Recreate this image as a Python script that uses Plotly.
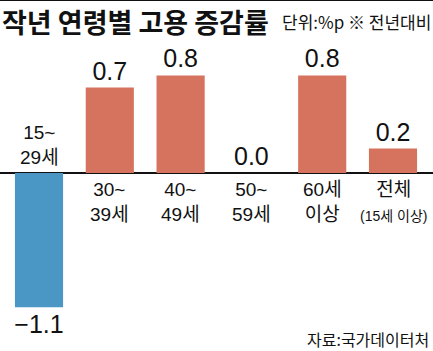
import plotly.graph_objects as go

categories = ["15~29세", "30~39세", "40~49세", "50~59세", "60세 이상", "전체"]
cat_labels = ["15~<br>29세", "30~<br>39세", "40~<br>49세", "50~<br>59세", "60세<br>이상",
              "전체<br><span style='font-size:14px'>(15세 이상)</span>"]
values = [-1.1, 0.7, 0.8, 0.0, 0.8, 0.2]

title_text = "작년 연령별 고용 증감률"
unit_text = "단위:%p ※ 전년대비"
source_text = "자료:국가데이터처"

RED = "#D6735F"
BLUE = "#4A96C4"
NUM_FONT = "Liberation Sans, Arial, Noto Sans CJK KR, sans-serif"
KR_FONT = "Noto Sans CJK KR, sans-serif"
LBL_FONT = "Liberation Sans, Noto Sans CJK KR, sans-serif"

colors = [BLUE if v < 0 else RED for v in values]
texts = [f"{v:.1f}".replace("-", "\u2212") for v in values]

fig = go.Figure(go.Bar(
    x=categories, y=values,
    marker=dict(color=colors, line=dict(width=0)),
    text=texts, textposition="outside", cliponaxis=False, constraintext="none",
    textfont=dict(family=NUM_FONT, size=25, color="#111111"),
    hoverinfo="skip",
))

annotations = []
for c, lab, v in zip(categories, cat_labels, values):
    if v < 0:
        annotations.append(dict(x=c, y=0, xref="x", yref="y", text=lab, showarrow=False,
                                yanchor="bottom", yshift=3,
                                font=dict(family=LBL_FONT, size=19, color="#111111")))
    else:
        annotations.append(dict(x=c, y=0, xref="x", yref="y", text=lab, showarrow=False,
                                yanchor="top", yshift=-4,
                                font=dict(family=LBL_FONT, size=19, color="#111111")))

annotations.append(dict(x=0.0, y=1 - 21.5 / 351, xref="paper", yref="paper", xanchor="left",
                        yanchor="middle", text=f"<b>{title_text}</b>", showarrow=False,
                        font=dict(family=KR_FONT, size=27, color="#111111")))
annotations.append(dict(x=1.0, y=1 - 21 / 351, xref="paper", yref="paper", xanchor="right",
                        yanchor="middle", text=unit_text, showarrow=False,
                        font=dict(family=KR_FONT, size=17, color="#111111")))
annotations.append(dict(x=0.995, y=1 - 339 / 351, xref="paper", yref="paper", xanchor="right",
                        yanchor="middle", text=source_text, showarrow=False,
                        font=dict(family=KR_FONT, size=16, color="#111111")))

fig.update_layout(
    width=433, height=351,
    margin=dict(l=0, r=0, t=0, b=0),
    paper_bgcolor="white", plot_bgcolor="white",
    showlegend=False,
    bargap=0.32,
    xaxis=dict(range=[-0.551, 5.565], showticklabels=False, ticks="", showgrid=False,
               zeroline=False, showline=False, fixedrange=True),
    yaxis=dict(range=[-1.459, 1.418], showticklabels=False, ticks="", showgrid=False,
               zeroline=True, zerolinecolor="#111111", zerolinewidth=1.5,
               showline=False, fixedrange=True),
    annotations=annotations,
    shapes=[dict(type="line", xref="paper", yref="paper", x0=0, x1=1, y0=1, y1=1,
                 line=dict(color="#111111", width=2))],
)

fig.write_html("out.html", config={"displayModeBar": False})
